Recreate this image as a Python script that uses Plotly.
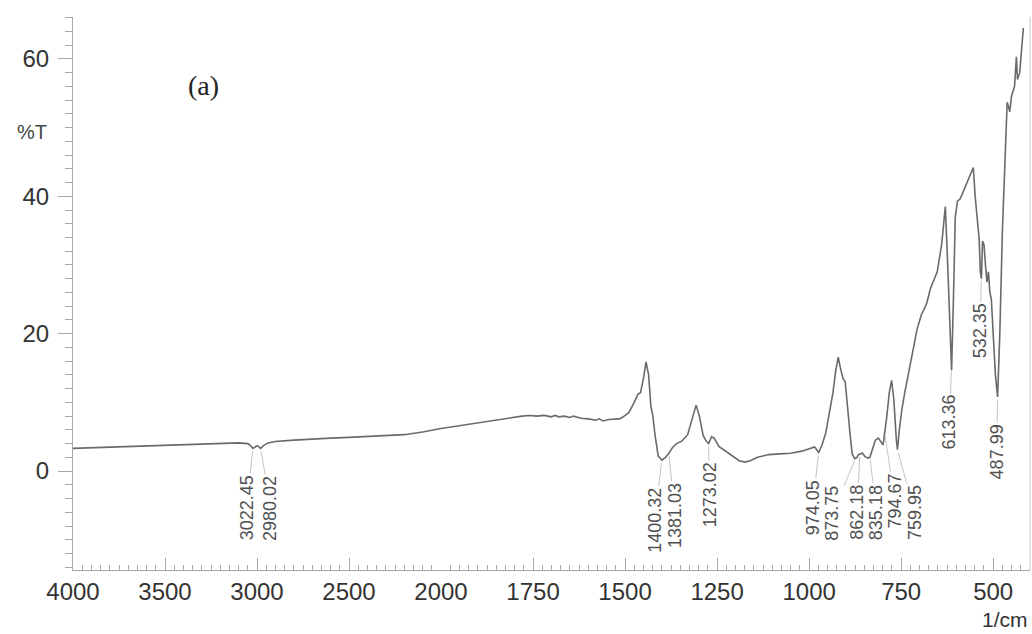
import numpy as np
import plotly.graph_objects as go

# FTIR transmission spectrum, wavenumber (1/cm) vs %T
wavenumber = [
    4000, 3800, 3600, 3400, 3200, 3100, 3050, 3035, 3022, 3008, 2998, 2980, 2965, 2940,
    2900, 2800, 2700, 2600, 2500, 2400, 2300, 2200, 2100, 2000,
    1950, 1900, 1850, 1800, 1780, 1760, 1740, 1720, 1700, 1690, 1680, 1665, 1650, 1640,
    1620, 1600, 1580, 1570, 1560, 1545, 1530, 1515, 1505, 1490, 1475, 1465, 1458, 1450,
    1443, 1436, 1430, 1425, 1418, 1410, 1400, 1390, 1381, 1370, 1360, 1345, 1330, 1318,
    1307, 1298, 1288, 1280, 1273, 1265, 1258, 1245, 1230, 1210, 1190, 1175, 1160, 1140,
    1110, 1080, 1050, 1020, 995, 985, 974, 965, 955, 945, 935, 928, 921, 915, 908, 902,
    896, 889, 883, 876, 870, 866, 862, 855, 848, 840, 835, 828, 820, 812, 805, 799, 790,
    782, 776, 770, 763, 760, 755, 748, 740, 730, 720, 707, 695, 688, 680, 671, 660, 652,
    640, 630, 625, 619, 613, 608, 603, 597, 590, 585, 575, 565, 554, 549, 544, 538, 535,
    532, 529, 525, 521, 517, 513, 509, 505, 500, 494, 488, 482, 475, 468, 462, 458, 455,
    450, 442, 437, 434, 428, 423, 418,
]
transmittance = [
    3.3, 3.5, 3.7, 3.9, 4.1, 4.1, 4.0, 3.7, 3.3, 3.6, 3.7, 3.3, 3.7, 4.1,
    4.3, 4.5, 4.7, 4.8, 4.9, 5.0, 5.1, 5.3, 5.7, 6.2,
    6.6, 7.1, 7.5, 7.9, 8.0, 8.1, 8.0, 8.1, 7.9, 8.1, 7.9, 8.0, 7.8, 8.0,
    7.7, 7.6, 7.4, 7.6, 7.3, 7.5, 7.5, 7.6, 7.9, 8.5, 10.0, 11.2, 11.4, 13.5,
    15.9, 14.0, 9.5, 8.2, 5.0, 2.2, 1.6, 2.0, 2.6, 3.5, 4.0, 4.4, 5.3, 7.5,
    9.6, 8.0, 5.2, 4.4, 4.0, 5.0, 4.8, 3.6, 3.0, 2.2, 1.5, 1.3, 1.5, 2.0,
    2.4, 2.5, 2.6, 2.9, 3.3, 3.5, 2.7, 3.8, 5.5, 8.5, 11.5, 14.5, 16.6, 15.0, 13.5, 13.0,
    9.0, 5.5, 2.5, 1.8, 2.0, 2.4, 2.5, 2.6, 2.1, 1.9, 2.0, 3.2, 4.5, 4.8, 4.2, 3.8, 7.5,
    11.5, 13.2, 10.5, 4.5, 3.1, 6.0, 9.0, 11.5, 14.5, 17.0, 20.6, 22.8, 23.5, 24.5, 26.5, 28.0, 29.0,
    33.0, 38.5, 32.0, 22.0, 14.7, 25.0, 37.0, 39.3, 39.6, 40.2, 41.5, 43.0, 44.2, 40.0, 37.0, 33.7, 29.0,
    28.0, 33.5, 33.0, 30.0, 27.5, 29.0, 26.0, 25.0, 20.0, 14.0, 10.8, 20.0, 35.0, 46.0, 53.7, 53.0, 52.3,
    54.6, 56.0, 60.3, 57.0, 58.0, 62.0, 64.5,
]

# labelled band positions
peak_labels = ["3022.45", "2980.02", "1400.32", "1381.03", "1273.02", "974.05", "873.75",
               "862.18", "835.18", "794.67", "759.95", "613.36", "532.35", "487.99"]

# pixel offsets of each label centre from its band (leader lines)
label_dx = [-6, 10, -7, 6, 1, -6, -23, -3, 7, 10, 17, -2, -1, -1]
label_dy = [59, 60, 60, 62, 51, 55, 55, 58, 55, 68, 63, 55, 53, 55]

x_high_ticks = [4000, 3500, 3000, 2500]
x_low_ticks = [2000, 1750, 1500, 1250, 1000, 750, 500]
y_ticks = [0, 20, 40, 60]

BREAK = 2000
LINE = "#6a6a6a"
AXIS = "#a8a8a8"
TXT = "#333333"

wn = np.array(wavenumber, dtype=float)
tr = np.array(transmittance, dtype=float)
hi = wn >= BREAK
lo = wn <= BREAK

fig = go.Figure()
fig.add_trace(go.Scatter(x=wn[hi], y=tr[hi], xaxis="x", yaxis="y", mode="lines",
                         line=dict(color=LINE, width=1.6), showlegend=False))
fig.add_trace(go.Scatter(x=wn[lo], y=tr[lo], xaxis="x2", yaxis="y", mode="lines",
                         line=dict(color=LINE, width=1.6), showlegend=False))

W, H = 1032, 634
ml, mr, mt, mb = 73, 2, 17, 64
plot_w = W - ml - mr
plot_h = H - mt - mb
split = (441 - ml) / plot_w


def px(xp):
    return (xp - ml) / plot_w


def py(yp):
    return (H - mb - yp) / plot_h


tick_font = dict(family="Liberation Sans, Arial, sans-serif", size=24, color=TXT)

common_x = dict(
    showline=True, linecolor=AXIS, linewidth=1.2, showgrid=False, zeroline=False,
    ticks="inside", ticklen=12, tickcolor=AXIS, tickwidth=1, tickfont=tick_font,
    ticklabelstandoff=0, anchor="y",
)
fig.update_layout(
    xaxis=dict(domain=[0, split], range=[4000, BREAK], tickmode="array",
               tickvals=x_high_ticks, ticktext=[str(t) for t in x_high_ticks],
               minor=dict(ticks="inside", ticklen=5, tickcolor=AXIS, dtick=50, tick0=0),
               **common_x),
    xaxis2=dict(domain=[split, 1], range=[BREAK, 400], tickmode="array",
                tickvals=x_low_ticks, ticktext=[str(t) for t in x_low_ticks],
                minor=dict(ticks="inside", ticklen=5, tickcolor=AXIS, dtick=25, tick0=0),
                **common_x),
    yaxis=dict(range=[-14.4, 66.1], tickmode="array", tickvals=y_ticks,
               ticktext=[str(t) for t in y_ticks], showline=True, linecolor=AXIS,
               linewidth=1.2, showgrid=False, zeroline=False, ticks="outside",
               ticklen=14, tickcolor=AXIS, tickfont=tick_font, ticklabelstandoff=4,
               minor=dict(ticks="outside", ticklen=7, tickcolor=AXIS, dtick=2, tick0=0),
               anchor="x"),
    width=W, height=H,
    margin=dict(l=ml, r=mr, t=mt, b=mb),
    paper_bgcolor="white", plot_bgcolor="white",
)

# right frame edge
fig.add_shape(type="line", xref="paper", yref="paper", x0=1, x1=1, y0=0, y1=1,
              line=dict(color="#c8c8c8", width=1))

# band labels with leader lines
asc = np.argsort(wn)
for text, dx, dy in zip(peak_labels, label_dx, label_dy):
    v = float(text)
    yv = float(np.interp(v, wn[asc], tr[asc]))
    fig.add_annotation(
        x=v, y=yv, xref="x" if v >= BREAK else "x2", yref="y",
        text=text, textangle=-90, showarrow=True, ax=dx, ay=dy,
        arrowhead=0, arrowwidth=0.8, arrowcolor="#b5b5b5", standoff=3,
        font=dict(family="Liberation Sans, Arial, sans-serif", size=18, color="#505050"),
    )

fig.add_annotation(text="%T", xref="paper", yref="paper", xanchor="center", yanchor="middle",
                   x=px(32), y=py(132), showarrow=False,
                   font=dict(family="Liberation Sans, Arial, sans-serif", size=20, color="#444"))
fig.add_annotation(text="1/cm", xref="paper", yref="paper", xanchor="right", yanchor="middle",
                   x=px(1030), y=py(619), showarrow=False,
                   font=dict(family="Liberation Sans, Arial, sans-serif", size=21, color=TXT))
fig.add_annotation(text="(a)", xref="paper", yref="paper", xanchor="center", yanchor="middle",
                   x=px(203), y=py(85), showarrow=False,
                   font=dict(family="Liberation Serif, Times New Roman, serif", size=28, color="#222"))

fig.write_html("out.html")
